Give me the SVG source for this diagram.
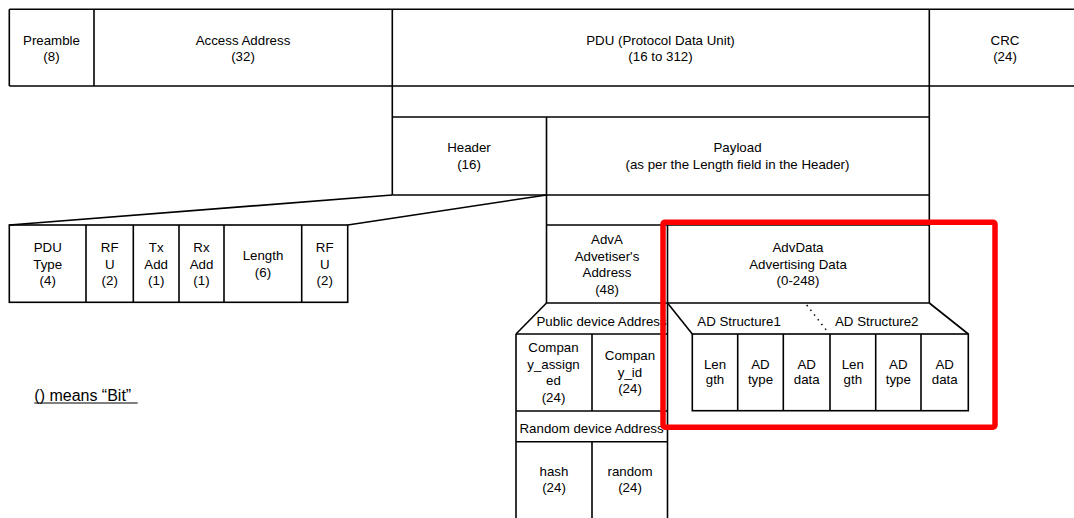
<svg xmlns="http://www.w3.org/2000/svg" width="1074" height="518" viewBox="0 0 1074 518">
<style>
.b{fill:none;stroke:#000;stroke-width:1.6}
.l{stroke:#000;stroke-width:1.6;fill:none}
text{font-family:"Liberation Sans",Arial,sans-serif;font-size:13.3px;fill:#000;text-anchor:middle}
.st{text-anchor:start}
</style>
<defs>
<clipPath id="clipPub"><rect x="516" y="303" width="151.5" height="31"/></clipPath>
<clipPath id="clipRnd"><rect x="516" y="411" width="151.5" height="31"/></clipPath>
</defs>
<rect width="1074" height="518" fill="#fff"/>

<g id="top-row">
<line class="l" x1="9.3" y1="9.3" x2="1074" y2="9.3"/>
<line class="l" x1="9.3" y1="86" x2="1074" y2="86"/>
<line class="l" x1="9.3" y1="9.3" x2="9.3" y2="86"/>
</g>
<g id="preamble">
<line class="l" x1="94" y1="9.3" x2="94" y2="86"/>
<text x="51.5" y="44.5">Preamble<tspan x="51.5" dy="16.7">(8)</tspan></text>
</g>
<g id="access-address">
<text x="243" y="44.5">Access Address<tspan x="243" dy="16.7">(32)</tspan></text>
</g>
<g id="pdu">
<line class="l" x1="392.3" y1="9.3" x2="392.3" y2="195"/>
<text x="660.5" y="44.5">PDU (Protocol Data Unit)<tspan x="660.5" dy="16.7">(16 to 312)</tspan></text>
</g>
<g id="crc">
<line class="l" x1="929.3" y1="9.3" x2="929.3" y2="303"/>
<text x="1005" y="44.5">CRC<tspan x="1005" dy="16.7">(24)</tspan></text>
</g>

<g id="header">
<line class="l" x1="392.3" y1="117" x2="929.3" y2="117"/>
<line class="l" x1="392.3" y1="195" x2="929.3" y2="195"/>
<text x="469" y="152">Header<tspan x="469" dy="17">(16)</tspan></text>
</g>
<g id="payload">
<line class="l" x1="546.5" y1="117" x2="546.5" y2="303"/>
<text x="737.5" y="152">Payload<tspan x="737.5" dy="17">(as per the Length field in the Header)</tspan></text>
</g>

<g id="header-fields">
<rect class="b" x="9.3" y="225" width="338.4" height="77.3"/>
<line class="l" x1="86" y1="225" x2="86" y2="302.3"/>
<line class="l" x1="133.3" y1="225" x2="133.3" y2="302.3"/>
<line class="l" x1="179" y1="225" x2="179" y2="302.3"/>
<line class="l" x1="224" y1="225" x2="224" y2="302.3"/>
<line class="l" x1="301.7" y1="225" x2="301.7" y2="302.3"/>
</g>
<g id="pdu-type"><text x="47.7" y="252">PDU<tspan x="47.7" dy="16.5">Type</tspan><tspan x="47.7" dy="16.5">(4)</tspan></text></g>
<g id="rfu1"><text x="109.7" y="252">RF<tspan x="109.7" dy="16.5">U</tspan><tspan x="109.7" dy="16.5">(2)</tspan></text></g>
<g id="txadd"><text x="156.2" y="252">Tx<tspan x="156.2" dy="16.5">Add</tspan><tspan x="156.2" dy="16.5">(1)</tspan></text></g>
<g id="rxadd"><text x="201.5" y="252">Rx<tspan x="201.5" dy="16.5">Add</tspan><tspan x="201.5" dy="16.5">(1)</tspan></text></g>
<g id="length"><text x="263" y="260">Length<tspan x="263" dy="16.5">(6)</tspan></text></g>
<g id="rfu2"><text x="324.7" y="252">RF<tspan x="324.7" dy="16.5">U</tspan><tspan x="324.7" dy="16.5">(2)</tspan></text></g>

<g id="adva">
<line class="l" x1="546.5" y1="225" x2="929.3" y2="225"/>
<line class="l" x1="546.5" y1="303" x2="929.3" y2="303"/>
<text x="607" y="244">AdvA<tspan x="607" dy="16.5">Advetiser's</tspan><tspan x="607" dy="16.5">Address</tspan><tspan x="607" dy="16.5">(48)</tspan></text>
</g>
<g id="advdata">
<line class="l" x1="667.5" y1="225" x2="667.5" y2="303"/>
<text x="798" y="252">AdvData<tspan x="798" dy="16.5">Advertising Data</tspan><tspan x="798" dy="16.5">(0-248)</tspan></text>
</g>

<g id="public-device-address">
<line class="l" x1="516" y1="334" x2="667.5" y2="334"/>
<line class="l" x1="667.5" y1="303" x2="667.5" y2="518"/>
<text class="st" x="536.5" y="325.5" clip-path="url(#clipPub)">Public device Address</text>
</g>
<g id="company-assigned">
<line class="l" x1="516" y1="334" x2="516" y2="518"/>
<line class="l" x1="592" y1="334" x2="592" y2="411"/>
<text x="553.5" y="352">Compan<tspan x="553.5" dy="16.5">y_assign</tspan><tspan x="553.5" dy="16.5">ed</tspan><tspan x="553.5" dy="16.5">(24)</tspan></text>
</g>
<g id="company-id">
<text x="630" y="360">Compan<tspan x="630" dy="16.5">y_id</tspan><tspan x="630" dy="16.5">(24)</tspan></text>
</g>
<g id="random-device-address">
<line class="l" x1="516" y1="411" x2="667.5" y2="411"/>
<line class="l" x1="516" y1="441.7" x2="667.5" y2="441.7"/>
<text class="st" x="519.5" y="433" clip-path="url(#clipRnd)">Random device Address</text>
</g>
<g id="hash">
<line class="l" x1="592" y1="441.7" x2="592" y2="518"/>
<text x="554" y="475.5">hash<tspan x="554" dy="16.5">(24)</tspan></text>
</g>
<g id="random">
<text x="630" y="475.5">random<tspan x="630" dy="16.5">(24)</tspan></text>
</g>

<g id="ad-structures">
<rect class="b" x="692.3" y="334" width="276" height="76.7"/>
<line class="l" x1="737.7" y1="334" x2="737.7" y2="410.7"/>
<line class="l" x1="783.3" y1="334" x2="783.3" y2="410.7"/>
<line class="l" x1="830" y1="334" x2="830" y2="410.7"/>
<line class="l" x1="875.7" y1="334" x2="875.7" y2="410.7"/>
<line class="l" x1="921" y1="334" x2="921" y2="410.7"/>
<text class="st" x="697.3" y="325.5">AD Structure1</text>
<text class="st" x="835" y="325.5">AD Structure2</text>
</g>
<g id="ad1-length"><text x="715" y="368.5">Len<tspan x="715" dy="15.5">gth</tspan></text></g>
<g id="ad1-type"><text x="760.5" y="368.5">AD<tspan x="760.5" dy="15.5">type</tspan></text></g>
<g id="ad1-data"><text x="806.7" y="368.5">AD<tspan x="806.7" dy="15.5">data</tspan></text></g>
<g id="ad2-length"><text x="852.8" y="368.5">Len<tspan x="852.8" dy="15.5">gth</tspan></text></g>
<g id="ad2-type"><text x="898.3" y="368.5">AD<tspan x="898.3" dy="15.5">type</tspan></text></g>
<g id="ad2-data"><text x="944.7" y="368.5">AD<tspan x="944.7" dy="15.5">data</tspan></text></g>

<g id="connectors">
<line class="l" x1="9.3" y1="225" x2="392.3" y2="195"/>
<line class="l" x1="347.7" y1="225" x2="546.5" y2="195"/>
<line class="l" x1="546.5" y1="303" x2="516" y2="334"/>
<line class="l" x1="667.5" y1="303" x2="692.3" y2="334"/>
<line class="l" x1="929.3" y1="303" x2="968.3" y2="334"/>
<line x1="806.7" y1="305" x2="827" y2="331" stroke="#000" stroke-width="1.5" stroke-dasharray="1.5 4.5"/>
</g>

<g id="highlight">
<rect x="663" y="222.2" width="332" height="205" rx="2" fill="none" stroke="#ff0000" stroke-width="5.5"/>
</g>

<g id="legend">
<text class="st" x="34.3" y="400.5" style="font-size:16px">() means “Bit”</text>
<line x1="34.3" y1="403" x2="137.7" y2="403" stroke="#000" stroke-width="1"/>
</g>
</svg>
